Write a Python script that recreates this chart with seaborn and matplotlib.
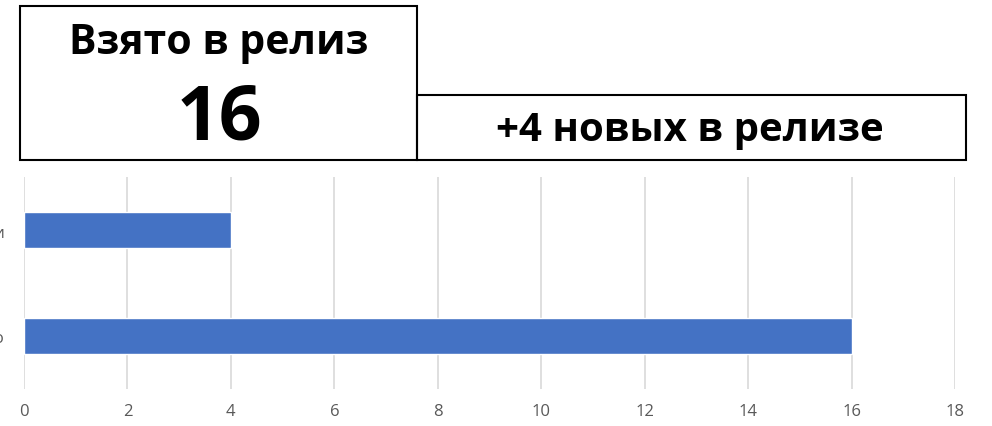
import pandas as pd
import seaborn as sns
from matplotlib import pyplot as plt
from matplotlib.patches import Rectangle

# data
categories = ["Новые задачи", "Всего"]
values = [4, 16]
taken_total = 16
new_in_release = 4
x_ticks = list(range(0, 20, 2))

W, H = 992, 427


def fx(px):
    return px / W


def fy(py):
    return 1 - py / H


def main():
    sns.set_style("white")
    plt.rcParams['font.family'] = ['Open Sans', 'DejaVu Sans']

    df = pd.DataFrame({'cat': categories, 'val': values})

    fig = plt.figure(figsize=(W / 100, H / 100), dpi=100)
    ax = fig.add_axes([fx(24), fy(390), fx(955) - fx(24), fy(178) - fy(390)])

    sns.barplot(data=df, x='val', y='cat', orient='h', color='#4472C4',
                width=0.345, saturation=1, ax=ax, zorder=3)

    ax.set_xlim(0, 18)
    ax.set_ylim(1.5, -0.5)
    ax.set_xticks(x_ticks)
    ax.set_xlabel('')
    ax.set_ylabel('')
    ax.grid(axis='x', color='#d9d9d9', linewidth=1.2, zorder=0)
    ax.grid(axis='y', visible=False)
    for s in ax.spines.values():
        s.set_visible(False)
    ax.tick_params(axis='x', length=0, pad=10, labelsize=12, labelcolor='#595959')
    ax.tick_params(axis='y', length=0, pad=14, labelsize=12, labelcolor='#595959')

    # boxes on top
    fig.patches.append(Rectangle((fx(20), fy(161)), fx(417) - fx(20), fy(7) - fy(161),
                                 transform=fig.transFigure, fill=False,
                                 edgecolor='black', linewidth=1.5))
    fig.patches.append(Rectangle((fx(417), fy(161)), fx(966) - fx(417), fy(96) - fy(161),
                                 transform=fig.transFigure, fill=False,
                                 edgecolor='black', linewidth=1.5))

    fig.text(fx(219), fy(44), 'Взято в релиз', ha='center', va='center',
             fontsize=29.5, fontweight='bold', color='black')
    fig.text(fx(219), fy(120), str(taken_total), ha='center', va='center',
             fontsize=54, fontweight='bold', color='black')
    fig.text(fx(690), fy(131), f'+{new_in_release} новых в релизе', ha='center', va='center',
             fontsize=29, fontweight='bold', color='black')

    fig.savefig('out.png', dpi=100)


if __name__ == '__main__':
    main()
